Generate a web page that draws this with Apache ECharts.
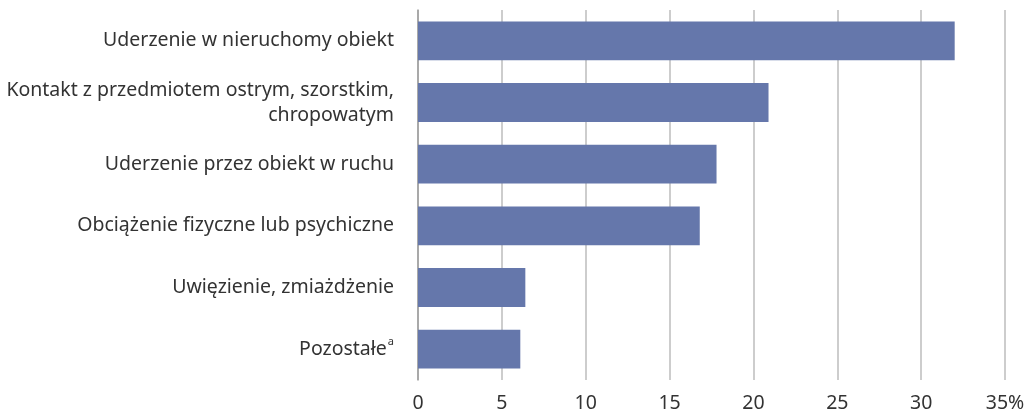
<!DOCTYPE html>
<html lang="pl">
<head>
    <meta charset="UTF-8">
    <title>Wypadki przy pracy</title>
    <script src="https://cdn.jsdelivr.net/npm/echarts@6/dist/echarts.min.js"></script>
    <style>
        body { margin: 0; background: #fff; }
    </style>
</head>
<body>
    <div id="chart" style="width: 1034px; height: 416px;"></div>

    <script>
        // kategorie (od góry do dołu)
        const categories = [
            'Uderzenie w nieruchomy obiekt',
            'Kontakt z przedmiotem ostrym, szorstkim,\nchropowatym',
            'Uderzenie przez obiekt w ruchu',
            'Obciążenie fizyczne lub psychiczne',
            'Uwięzienie, zmiażdżenie',
            'Pozostałe{sup|a}'
        ];
        // udział w %
        const values = [32.0, 20.9, 17.8, 16.8, 6.4, 6.1];
        const xTicks = [0, 5, 10, 15, 20, 25, 30, 35];

        const textColor = '#333333';
        const gridColor = '#bdbdbd';

        let chart = echarts.init(document.getElementById('chart'));

        let option = {
            animation: false,
            grid: { left: 418, right: 29, top: 10, bottom: 36 },
            xAxis: {
                type: 'value',
                min: xTicks[0],
                max: xTicks[xTicks.length - 1],
                interval: 5,
                axisLine: { show: false },
                axisTick: { show: false },
                splitLine: { show: true, lineStyle: { color: gridColor, width: 1.5 } },
                axisLabel: {
                    color: textColor,
                    fontFamily: 'Noto Sans',
                    fontSize: 19.5,
                    margin: 13,
                    formatter: function (v) {
                        return v === xTicks[xTicks.length - 1] ? v + '%' : String(v);
                    }
                }
            },
            yAxis: {
                type: 'category',
                inverse: true,
                data: categories,
                axisLine: { show: true, lineStyle: { color: '#9e9e9e', width: 1.5 } },
                axisTick: { show: false },
                axisLabel: {
                    color: textColor,
                    fontFamily: 'Noto Sans',
                    fontSize: 19.5,
                    lineHeight: 25,
                    margin: 24,
                    align: 'right',
                    rich: {
                        sup: {
                            fontSize: 11,
                            fontFamily: 'Noto Sans',
                            color: textColor,
                            verticalAlign: 'top',
                            padding: [0, 0, 9, 1]
                        }
                    }
                }
            },
            series: [{
                type: 'bar',
                data: values,
                barCategoryGap: '37%',
                itemStyle: { color: '#6577ab' }
            }]
        };

        chart.setOption(option);
    </script>
</body>
</html>
